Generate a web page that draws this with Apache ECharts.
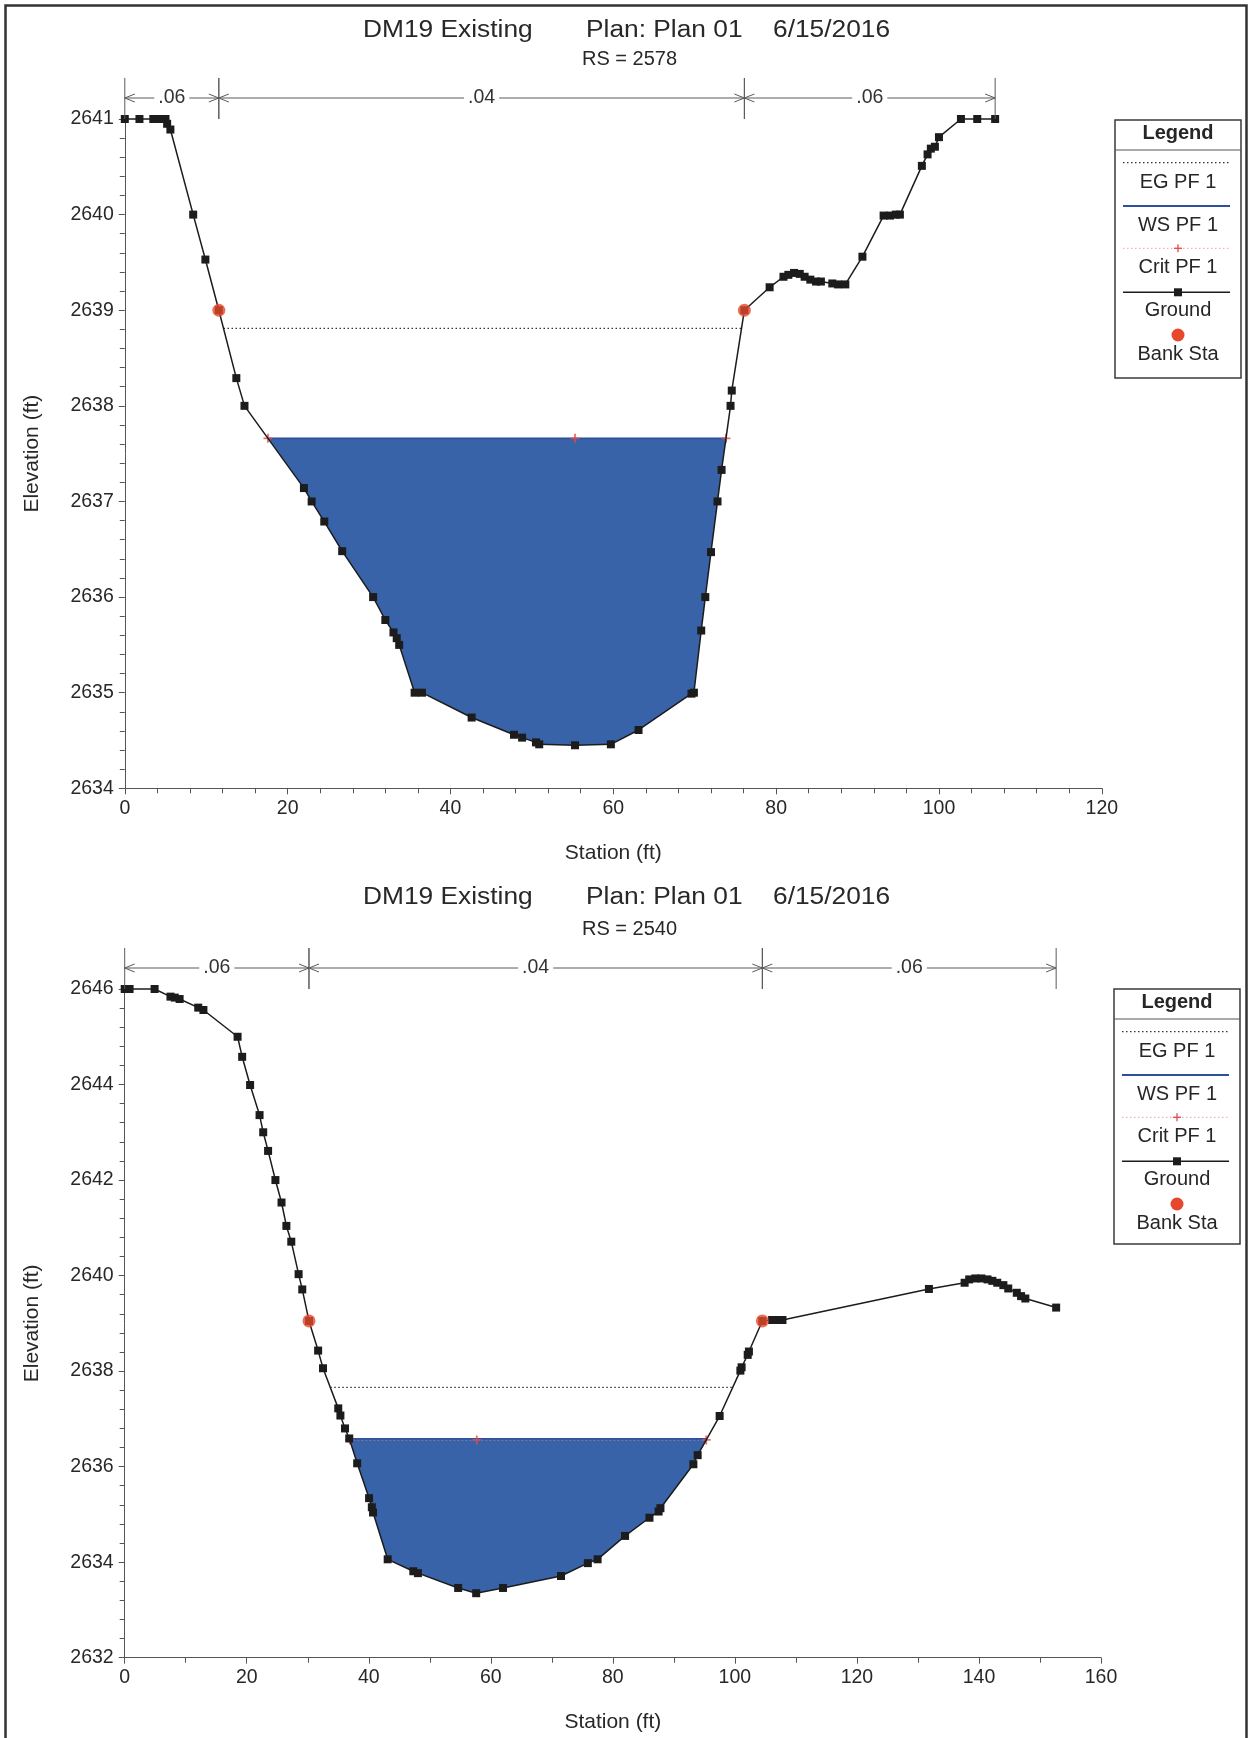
<!DOCTYPE html>
<html>
<head>
<meta charset="utf-8">
<script src="https://cdn.jsdelivr.net/npm/echarts@6/dist/echarts.min.js"></script>
<style>
html,body{margin:0;padding:0;background:#ffffff;}
#main{width:1250px;height:1738px;}
</style>
</head>
<body>
<div id="main"></div>
<script>
// ================= DATA =================
// Cross section RS = 2578 (ground survey points)
const rs2578Station = [0, 1.8, 3.5, 4.0, 4.5, 5.0, 5.2, 5.6, 8.4, 9.9, 11.55, 13.7, 14.7, 22.0, 22.95, 24.5, 26.7, 30.5, 32.0, 33.0, 33.4, 33.7, 35.6, 36.5, 42.6, 47.8, 48.8, 50.5, 50.9, 55.3, 59.7, 63.1, 69.6, 69.9, 70.8, 71.3, 72.0, 72.8, 73.3, 74.4, 74.55, 76.1, 79.2, 80.9, 81.5, 82.2, 82.9, 83.5, 84.2, 84.9, 85.5, 86.9, 87.6, 88.5, 90.6, 93.2, 94.0, 94.7, 95.2, 97.9, 98.6, 99.0, 99.5, 100.0, 102.7, 104.7, 106.9];
const rs2578Elevation = [2641, 2641, 2641, 2641, 2641, 2641, 2640.95, 2640.89, 2640.0, 2639.53, 2639.0, 2638.29, 2638.0, 2637.14, 2637.0, 2636.79, 2636.48, 2636.0, 2635.76, 2635.63, 2635.57, 2635.5, 2635.0, 2635.0, 2634.74, 2634.56, 2634.53, 2634.48, 2634.46, 2634.45, 2634.46, 2634.61, 2634.99, 2635.0, 2635.65, 2636.0, 2636.47, 2637.0, 2637.33, 2638.0, 2638.16, 2639.0, 2639.24, 2639.35, 2639.37, 2639.39, 2639.38, 2639.35, 2639.32, 2639.30, 2639.30, 2639.28, 2639.27, 2639.27, 2639.56, 2639.99, 2639.99, 2640.0, 2640.0, 2640.51, 2640.63, 2640.69, 2640.71, 2640.81, 2641.0, 2641.0, 2641.0];
const rs2578BankStation = [11.55, 76.1];
const rs2578WS = 2637.66;
const rs2578EG = 2638.81;
const rs2578Crit = 2637.66;
const rs2578CritStation = 55.3;
const rs2578Manning = ['.06', '.04', '.06'];
const rs2578XRange = [0, 120, 20];      // min, max, tick step
const rs2578YRange = [2634, 2641, 1];

// Cross section RS = 2540
const rs2540Station = [0, 0.8, 4.9, 7.5, 8.2, 9.0, 12.05, 12.9, 18.5, 19.25, 20.55, 22.1, 22.7, 23.5, 24.7, 25.7, 26.5, 27.3, 28.5, 29.1, 30.2, 31.7, 32.5, 35.0, 35.35, 36.1, 36.8, 38.1, 40.05, 40.5, 40.7, 43.1, 47.3, 48.05, 54.65, 57.6, 62.0, 71.5, 75.9, 77.5, 82.0, 86.0, 87.5, 87.8, 93.2, 93.9, 97.5, 100.9, 101.1, 102.1, 102.3, 104.5, 106.1, 107.1, 107.8, 131.8, 137.65, 138.4, 139.4, 140.4, 141.4, 142.2, 143.0, 144.0, 144.8, 146.2, 146.9, 147.6, 152.65];
const rs2540Elevation = [2646, 2646, 2646, 2645.84, 2645.82, 2645.79, 2645.61, 2645.56, 2645.0, 2644.58, 2643.99, 2643.36, 2643.0, 2642.61, 2642.0, 2641.53, 2641.04, 2640.71, 2640.03, 2639.71, 2639.05, 2638.43, 2638.06, 2637.22, 2637.07, 2636.8, 2636.59, 2636.07, 2635.34, 2635.15, 2635.04, 2634.06, 2633.81, 2633.77, 2633.46, 2633.35, 2633.46, 2633.71, 2633.98, 2634.06, 2634.55, 2634.93, 2635.06, 2635.13, 2636.05, 2636.24, 2637.06, 2638.01, 2638.08, 2638.34, 2638.41, 2639.05, 2639.07, 2639.07, 2639.07, 2639.72, 2639.85, 2639.92, 2639.94, 2639.94, 2639.92, 2639.89, 2639.85, 2639.80, 2639.73, 2639.64, 2639.57, 2639.52, 2639.33];
const rs2540BankStation = [30.2, 104.5];
const rs2540WS = 2636.58;
const rs2540EG = 2637.66;
const rs2540Crit = 2636.56;
const rs2540CritStation = 57.7;
const rs2540Manning = ['.06', '.04', '.06'];
const rs2540XRange = [0, 160, 20];
const rs2540YRange = [2632, 2646, 2];

const titleParts = ['DM19 Existing', 'Plan: Plan 01', '6/15/2016'];
const legendLabels = ['EG PF 1', 'WS PF 1', 'Crit PF 1', 'Ground', 'Bank Sta'];

// ================= LAYOUT / STYLE =================
const FONT = '"Liberation Sans", Arial, Helvetica, sans-serif';
const C = {
  text: '#282828', axis: '#555555', ground: '#1c1c1c', water: '#3963a8',
  ws: '#2d4f9c', eg: '#333333', crit: '#f0a0a0', critMark: '#e24b4b', bank: '#e5482c', bar: '#5a5a5a'
};

const panels = [
  { sta: rs2578Station, elev: rs2578Elevation, banks: rs2578BankStation, ws: rs2578WS, eg: rs2578EG,
    crit: rs2578Crit, critSta: rs2578CritStation, n: rs2578Manning, xr: rs2578XRange, yr: rs2578YRange,
    xMinor: 5, yMinor: 5, rs: 'RS = 2578',
    grid: { left: 124.8, top: 119, width: 977, height: 669.3 }, titleY: 30.5, rsY: 59.7,
    legend: { left: 1115, top: 120, width: 126, height: 258 } },
  { sta: rs2540Station, elev: rs2540Elevation, banks: rs2540BankStation, ws: rs2540WS, eg: rs2540EG,
    crit: rs2540Crit, critSta: rs2540CritStation, n: rs2540Manning, xr: rs2540XRange, yr: rs2540YRange,
    xMinor: 2, yMinor: 5, rs: 'RS = 2540',
    grid: { left: 124.7, top: 989, width: 976.3, height: 668.7 }, titleY: 898, rsY: 929,
    legend: { left: 1114, top: 989, width: 126, height: 255 } }
];

// ================= HELPERS =================
function crossX(s0, e0, s1, e1, level) {
  return s0 + (level - e0) * (s1 - s0) / (e1 - e0);
}
function groundAt(sta, elev, s) {
  for (let k = 0; k < sta.length - 1; k++) {
    if (s >= sta[k] && s <= sta[k + 1]) {
      if (sta[k + 1] === sta[k]) return elev[k];
      return elev[k] + (s - sta[k]) * (elev[k + 1] - elev[k]) / (sta[k + 1] - sta[k]);
    }
  }
  return elev[elev.length - 1];
}
// wetted region below `level` around the channel low point
function wetted(sta, elev, level) {
  let iMin = 0;
  for (let k = 1; k < elev.length; k++) if (elev[k] < elev[iMin]) iMin = k;
  let l = iMin; while (l > 0 && elev[l - 1] < level) l--;
  let r = iMin; while (r < elev.length - 1 && elev[r + 1] < level) r++;
  const xl = crossX(sta[l - 1], elev[l - 1], sta[l], elev[l], level);
  const xr = crossX(sta[r], elev[r], sta[r + 1], elev[r + 1], level);
  const poly = [[xl, level]];
  for (let k = l; k <= r; k++) poly.push([sta[k], elev[k]]);
  poly.push([xr, level]);
  return { xl, xr, poly };
}

const PLUS = 'path://M4,0H6V4H10V6H6V10H4V6H0V4H4Z';

const grids = [], xAxes = [], yAxes = [], series = [], graphics = [];

// page border
graphics.push({ type: 'rect', shape: { x: 5.5, y: 5.5, width: 1241, height: 1800 },
  style: { fill: 'none', stroke: '#333', lineWidth: 2.5 }, z: 100 });

panels.forEach((p, i) => {
  grids.push(Object.assign({ show: false, containLabel: false, outerBoundsMode: 'none' }, p.grid));

  xAxes.push({
    type: 'value', gridIndex: i, min: p.xr[0], max: p.xr[1], interval: p.xr[2],
    axisLine: { show: true, onZero: false, lineStyle: { color: C.axis, width: 1 } },
    axisTick: { show: true, length: 6, lineStyle: { color: C.axis } },
    minorTick: { show: true, splitNumber: p.xMinor, length: 5, lineStyle: { color: C.axis } },
    splitLine: { show: false }, minorSplitLine: { show: false },
    axisLabel: { color: C.text, fontSize: 19.5, fontFamily: FONT, margin: 10, formatter: v => String(v) },
    name: 'Station (ft)', nameLocation: 'middle', nameGap: 54,
    nameTextStyle: { color: C.text, fontSize: 21, fontFamily: FONT }
  });
  yAxes.push({
    type: 'value', gridIndex: i, min: p.yr[0], max: p.yr[1], interval: p.yr[2],
    axisLine: { show: true, onZero: false, lineStyle: { color: C.axis, width: 1 } },
    axisTick: { show: true, length: 6, lineStyle: { color: C.axis } },
    minorTick: { show: true, splitNumber: p.yMinor, length: 5, lineStyle: { color: C.axis } },
    splitLine: { show: false }, minorSplitLine: { show: false },
    axisLabel: { color: C.text, fontSize: 19.5, fontFamily: FONT, margin: 11, formatter: v => String(v) },
    name: 'Elevation (ft)', nameLocation: 'middle', nameGap: 82, nameRotate: 90,
    nameTextStyle: { color: C.text, fontSize: 21, fontFamily: FONT }
  });

  const ground = p.sta.map((s, k) => [s, p.elev[k]]);
  const water = wetted(p.sta, p.elev, p.ws);
  const egEdge = wetted(p.sta, p.elev, p.eg);
  const critEdge = wetted(p.sta, p.elev, p.crit);
  const critPts = [[critEdge.xl, p.crit], [p.critSta, p.crit], [critEdge.xr, p.crit]];
  const bankPts = p.banks.map(s => [s, groundAt(p.sta, p.elev, s)]);
  const bounds = [p.sta[0], p.banks[0], p.banks[1], p.sta[p.sta.length - 1]];
  const nData = p.n.map((lab, k) => ({ value: [bounds[k], bounds[k + 1], p.yr[1]], name: lab }));
  const nLabels = p.n;
  const poly = water.poly;

  // water fill
  series.push({
    type: 'custom', xAxisIndex: i, yAxisIndex: i, data: poly, encode: { x: 0, y: 1 },
    silent: true, z: 1,
    renderItem: function (params, api) {
      if (params.dataIndex !== 0) return null;
      const pts = poly.map(pt => api.coord(pt));
      return { type: 'polygon', shape: { points: pts }, style: { fill: C.water, stroke: null } };
    }
  });
  // crit line (under WS)
  series.push({
    type: 'line', name: 'Crit PF 1', xAxisIndex: i, yAxisIndex: i, data: critPts, showSymbol: false,
    lineStyle: { color: C.crit, width: 1, type: [1.5, 2.5] }, z: 2, silent: true
  });
  // WS line
  series.push({
    type: 'line', name: 'WS PF 1', xAxisIndex: i, yAxisIndex: i, data: [[water.xl, p.ws], [water.xr, p.ws]],
    showSymbol: false, lineStyle: { color: C.ws, width: 1.8 }, z: 3, silent: true
  });
  // crit markers
  series.push({
    type: 'scatter', xAxisIndex: i, yAxisIndex: i, data: critPts, symbol: PLUS, symbolSize: 9,
    itemStyle: { color: C.critMark }, z: 4, silent: true
  });
  // EG line
  series.push({
    type: 'line', name: 'EG PF 1', xAxisIndex: i, yAxisIndex: i, data: [[egEdge.xl, p.eg], [egEdge.xr, p.eg]],
    showSymbol: false, lineStyle: { color: C.eg, width: 1.2, type: [1.5, 2.5] }, z: 3, silent: true
  });
  // Ground
  series.push({
    type: 'line', name: 'Ground', xAxisIndex: i, yAxisIndex: i, data: ground, clip: false,
    symbol: 'rect', symbolSize: 8, showSymbol: true, showAllSymbol: true,
    itemStyle: { color: C.ground }, lineStyle: { color: C.ground, width: 1.5 }, z: 5, silent: true
  });
  // Bank stations
  series.push({
    type: 'scatter', name: 'Bank Sta', xAxisIndex: i, yAxisIndex: i, data: bankPts, clip: false,
    symbol: 'circle', symbolSize: 13, itemStyle: { color: C.bank }, z: 6, silent: true
  });
  // Manning's n bars above the plot
  series.push({
    type: 'custom', xAxisIndex: i, yAxisIndex: i, data: nData, encode: { x: [0, 1], y: 2 },
    clip: false, silent: true, z: 6,
    renderItem: function (params, api) {
      const top = params.coordSys.y;
      const yb = top - 21;
      const a = api.coord([api.value(0), api.value(2)])[0];
      const b = api.coord([api.value(1), api.value(2)])[0];
      const st = { stroke: C.bar, lineWidth: 1, fill: 'none' };
      return {
        type: 'group', children: [
          { type: 'line', shape: { x1: a, y1: yb, x2: b, y2: yb }, style: st },
          { type: 'polyline', shape: { points: [[a + 10, yb - 4], [a, yb], [a + 10, yb + 4]] }, style: st },
          { type: 'polyline', shape: { points: [[b - 10, yb - 4], [b, yb], [b - 10, yb + 4]] }, style: st },
          { type: 'line', shape: { x1: a, y1: top - 41, x2: a, y2: top }, style: st },
          { type: 'line', shape: { x1: b, y1: top - 41, x2: b, y2: top }, style: st },
          { type: 'text', x: (a + b) / 2, y: yb, style: { text: nLabels[params.dataIndex], align: 'center', verticalAlign: 'middle',
            fill: '#333333', fontSize: 19.5, fontFamily: FONT, backgroundColor: '#ffffff', padding: [0, 4] } }
        ]
      };
    }
  });

  // titles
  const titleX = [363, 586, 773];
  titleParts.forEach((t, k) => {
    graphics.push({ type: 'text', x: titleX[k], y: p.titleY, scaleX: 1.12,
      style: { text: t, align: 'left', verticalAlign: 'middle', fill: C.text, fontSize: 23.5, fontFamily: FONT } });
  });
  graphics.push({ type: 'text', x: 582, y: p.rsY,
    style: { text: p.rs, align: 'left', verticalAlign: 'middle', fill: C.text, fontSize: 20, fontFamily: FONT } });

  // legend box
  const L = p.legend, cx = L.left + L.width / 2, lx1 = L.left + 8, lx2 = L.left + L.width - 11, T = L.top;
  const txt = (s, dy, bold) => ({ type: 'text', style: { text: s, x: cx, y: T + dy, align: 'center', verticalAlign: 'middle',
    fill: '#262626', fontSize: 20, fontWeight: bold ? 'bold' : 'normal', fontFamily: FONT } });
  const hl = (dy, style) => ({ type: 'line', shape: { x1: lx1, y1: T + dy, x2: lx2, y2: T + dy }, style });
  graphics.push({ type: 'group', children: [
    { type: 'rect', shape: { x: L.left, y: L.top, width: L.width, height: L.height }, style: { fill: '#fff', stroke: '#3a3a3a', lineWidth: 1.5 } },
    txt('Legend', 13.5, true),
    { type: 'line', shape: { x1: L.left, y1: T + 30, x2: L.left + L.width, y2: T + 30 }, style: { stroke: '#555', lineWidth: 1 } },
    hl(42.7, { stroke: C.eg, lineWidth: 1.2, lineDash: [1.5, 2.5] }),
    txt(legendLabels[0], 62.7),
    hl(86, { stroke: C.ws, lineWidth: 1.8 }),
    txt(legendLabels[1], 105),
    hl(128.3, { stroke: C.crit, lineWidth: 1, lineDash: [1.5, 2.5] }),
    { type: 'line', shape: { x1: cx - 4, y1: T + 128.3, x2: cx + 4, y2: T + 128.3 }, style: { stroke: C.critMark, lineWidth: 1.3 } },
    { type: 'line', shape: { x1: cx, y1: T + 124.3, x2: cx, y2: T + 132.3 }, style: { stroke: C.critMark, lineWidth: 1.3 } },
    txt(legendLabels[2], 147.3),
    hl(172.3, { stroke: C.ground, lineWidth: 1.4 }),
    { type: 'rect', shape: { x: cx - 4, y: T + 168.3, width: 8, height: 8 }, style: { fill: C.ground } },
    txt(legendLabels[3], 190.7),
    { type: 'circle', shape: { cx: cx, cy: T + 215, r: 6.5 }, style: { fill: C.bank } },
    txt(legendLabels[4], 234)
  ] });
});

const chart = echarts.init(document.getElementById('main'), null, { renderer: 'canvas' });
chart.setOption({
  animation: false,
  backgroundColor: '#ffffff',
  grid: grids,
  xAxis: xAxes,
  yAxis: yAxes,
  series: series,
  graphic: { elements: graphics }
});
</script>
</body>
</html>
